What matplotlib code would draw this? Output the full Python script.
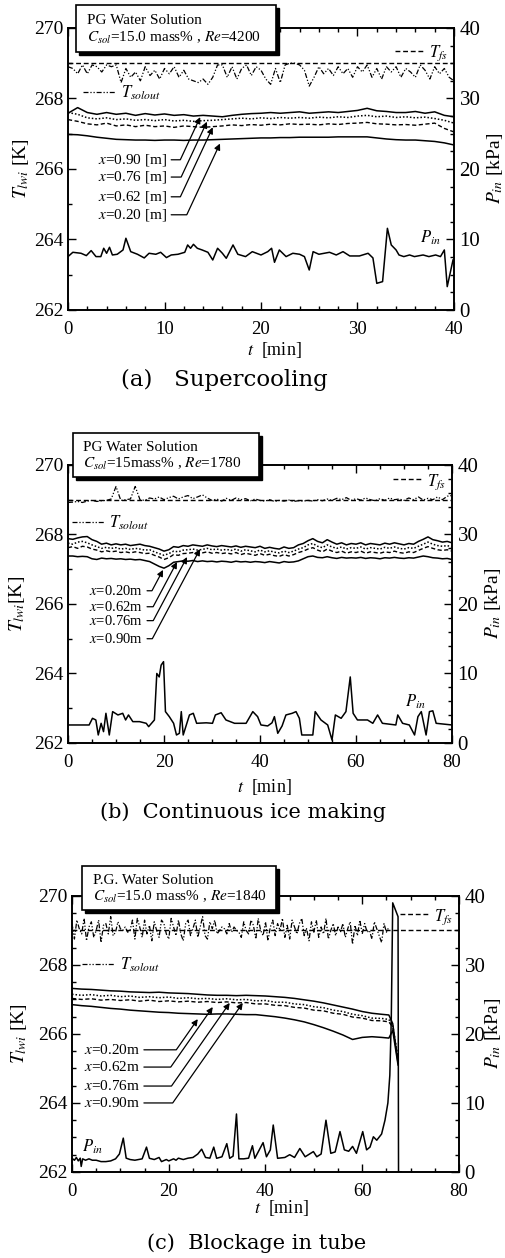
import numpy as np
import matplotlib
matplotlib.use('Agg')
import matplotlib.pyplot as plt
from matplotlib.patches import Rectangle
from matplotlib.ticker import MultipleLocator
from matplotlib.transforms import offset_copy

plt.rcParams['font.family'] = 'Liberation Serif'
plt.rcParams['mathtext.fontset'] = 'stix'

# ---------------- (a) Supercooling ----------------
t_sol_a = np.arange(0, 40.5, 0.5)
tsol_a = [268.9, 268.85, 268.7, 268.95, 268.7, 268.95, 268.9, 268.75, 268.95, 268.9,
          268.95, 268.45, 268.85, 268.6, 268.75, 268.5, 268.9, 268.65, 268.8, 268.55,
          268.85, 268.7, 268.9, 268.6, 268.8, 268.55, 268.5, 268.45, 268.55, 268.4,
          268.6, 268.95, 268.95, 268.6, 268.9, 268.55, 268.85, 268.95, 268.65, 268.9,
          268.8, 268.55, 268.4, 268.85, 268.45, 268.95, 269.0, 269.0, 268.95, 268.8,
          268.35, 268.6, 268.9, 268.7, 268.85, 268.65, 268.9, 268.7, 268.85, 268.6,
          268.9, 268.75, 268.95, 268.6, 268.85, 268.55, 268.9, 268.75, 268.9, 268.6,
          268.85, 268.75, 268.6, 268.95, 268.8, 268.55, 268.9, 268.7, 268.85, 268.6,
          268.5]
tfs_a = 269.0

t_w_a = np.arange(0, 41, 1)
a_x90 = [267.58, 267.74, 267.6, 267.55, 267.6, 267.55, 267.58, 267.52, 267.57, 267.53,
         267.56, 267.52, 267.54, 267.5, 267.52, 267.5, 267.48, 267.52, 267.55, 267.57,
         267.58, 267.6, 267.58, 267.6, 267.62, 267.58, 267.6, 267.62, 267.6, 267.63,
         267.66, 267.72, 267.65, 267.63, 267.6, 267.6, 267.63, 267.58, 267.62, 267.52, 267.48]
a_x76 = [267.6, 267.55, 267.45, 267.42, 267.45, 267.4, 267.42, 267.38, 267.4, 267.37,
         267.4, 267.36, 267.38, 267.35, 267.37, 267.38, 267.4, 267.42, 267.44, 267.42,
         267.45, 267.43, 267.46, 267.44, 267.46, 267.44, 267.47, 267.45, 267.48, 267.46,
         267.5, 267.52, 267.48, 267.5, 267.46, 267.48, 267.45, 267.47, 267.43, 267.38, 267.3]
a_x62 = [267.4, 267.35, 267.28, 267.25, 267.3, 267.22, 267.25, 267.2, 267.24, 267.2,
         267.22, 267.18, 267.22, 267.2, 267.18, 267.2, 267.22, 267.25, 267.23, 267.26,
         267.24, 267.27, 267.25, 267.28, 267.26, 267.27, 267.25, 267.28, 267.26, 267.29,
         267.3, 267.32, 267.28, 267.27, 267.25, 267.26, 267.24, 267.27, 267.3, 267.15, 267.05]
a_x20 = [266.98, 266.97, 266.94, 266.9, 266.87, 266.84, 266.83, 266.82, 266.82, 266.81,
         266.82, 266.82, 266.81, 266.82, 266.82, 266.83, 266.84, 266.85, 266.86, 266.87,
         266.88, 266.88, 266.89, 266.89, 266.9, 266.9, 266.9, 266.9, 266.91, 266.91,
         266.91, 266.91, 266.88, 266.85, 266.83, 266.82, 266.82, 266.8, 266.78, 266.74, 266.68]

pin_a_t = [0, 0.5, 1.35, 1.9, 2.4, 2.9, 3.4, 3.7, 4.0, 4.3, 4.6, 5.1, 5.7, 6.0, 6.5, 7.2, 7.9,
           8.4, 9.1, 9.6, 10.2, 10.7, 11.4, 12.1, 12.4, 12.7, 13.0, 13.4, 13.9, 14.5, 15.0,
           15.5, 16.0, 16.4, 17.1, 17.6, 18.4, 19.1, 20.0, 20.7, 21.1, 21.4, 21.9, 22.6, 23.3,
           24.0, 24.5, 25.0, 25.4, 26.0, 27.1, 27.8, 28.5, 29.2, 30.2, 31.1, 31.6, 32.0, 32.6,
           33.1, 33.5, 34.0, 34.3, 34.8, 35.4, 35.9, 36.8, 37.4, 38.1, 38.6, 39.0, 39.3, 39.9]
pin_a = [7.57, 8.18, 8.04, 7.71, 8.42, 7.57, 7.57, 8.75, 8.04, 8.89, 7.8, 7.9, 8.51, 10.17,
         8.27, 7.9, 7.38, 8.04, 7.9, 8.18, 7.43, 7.8, 7.9, 8.18, 9.22, 8.75, 9.31, 8.75, 8.51,
         8.18, 7.09, 8.75, 8.04, 7.33, 9.22, 7.9, 7.57, 8.27, 7.8, 8.27, 8.75, 6.76, 8.51,
         7.57, 8.04, 7.9, 7.57, 5.67, 8.27, 7.9, 8.18, 7.8, 8.27, 7.66, 7.66, 8.04, 7.38,
         3.78, 4.02, 11.58, 9.22, 8.51, 7.8, 7.57, 7.8, 7.57, 7.8, 7.57, 7.8, 7.57, 8.51,
         3.31, 7.09]

# ---------------- (b) Continuous ice making ----------------
t_b = np.arange(0, 81, 1)
tsol_b = [268.92, 268.93, 268.95, 268.92, 268.96, 268.98, 268.95, 268.97, 268.98, 269.02,
          269.38, 268.98, 269.0, 269.02, 269.38, 269.0, 268.98, 269.05, 269.02, 269.08,
          269.0, 269.06, 269.1, 269.02, 269.08, 269.12, 269.03, 269.08, 269.14, 269.05,
          268.98, 269.02, 268.96, 269.04, 268.98, 269.05, 269.0, 269.03, 268.97, 269.02,
          268.98, 268.96, 269.0, 268.95, 268.98, 268.96, 268.99, 268.95, 268.97, 268.96,
          268.98, 268.96, 269.0, 268.97, 269.02, 268.98, 269.04, 269.0, 269.06, 268.98,
          269.03, 268.99, 269.05, 269.0, 268.97, 269.03, 268.98, 269.05, 269.0, 269.02,
          268.98, 269.05, 269.0, 269.08, 268.99, 269.04, 269.0, 269.08, 269.0, 269.1,
          269.12]
tfs_b = 269.0
b_x90 = [267.88, 267.86, 267.9, 267.93, 267.94, 267.85, 267.8, 267.72, 267.75, 267.7,
         267.73, 267.7, 267.72, 267.68, 267.7, 267.72, 267.68, 267.66, 267.62, 267.58,
         267.52, 267.56, 267.65, 267.63, 267.68, 267.66, 267.7, 267.68, 267.66, 267.7,
         267.67, 267.65, 267.68, 267.66, 267.64, 267.67, 267.63, 267.66, 267.64, 267.62,
         267.66, 267.6, 267.63, 267.6, 267.58, 267.64, 267.6, 267.62, 267.7, 267.74,
         267.82, 267.88, 267.8, 267.76, 267.85, 267.78, 267.72, 267.76, 267.7, 267.74,
         267.72, 267.76, 267.7, 267.74, 267.72, 267.7, 267.75, 267.72, 267.76, 267.73,
         267.7, 267.74, 267.72, 267.8, 267.86, 267.93, 267.85, 267.82, 267.78, 267.8,
         267.76]
b_x76 = [267.75, 267.72, 267.78, 267.8, 267.76, 267.7, 267.65, 267.6, 267.63, 267.6,
         267.62, 267.58, 267.6, 267.57, 267.6, 267.58, 267.55, 267.56, 267.5, 267.45,
         267.4, 267.45, 267.52, 267.5, 267.55, 267.56, 267.58, 267.55, 267.57, 267.6,
         267.56, 267.58, 267.55, 267.57, 267.54, 267.58, 267.52, 267.56, 267.53, 267.5,
         267.55, 267.5, 267.53, 267.49, 267.47, 267.52, 267.48, 267.52, 267.58, 267.62,
         267.7, 267.74, 267.66, 267.62, 267.7, 267.64, 267.6, 267.64, 267.58, 267.62,
         267.6, 267.64, 267.58, 267.62, 267.6, 267.58, 267.63, 267.6, 267.64, 267.6,
         267.58, 267.62, 267.6, 267.66, 267.72, 267.78, 267.72, 267.68, 267.66, 267.68,
         267.64]
b_x62 = [267.62, 267.65, 267.6, 267.66, 267.64, 267.58, 267.55, 267.5, 267.53, 267.5,
         267.52, 267.48, 267.5, 267.47, 267.5, 267.48, 267.45, 267.46, 267.4, 267.35,
         267.28, 267.33, 267.42, 267.4, 267.45, 267.46, 267.48, 267.45, 267.47, 267.5,
         267.46, 267.48, 267.45, 267.47, 267.44, 267.48, 267.42, 267.46, 267.43, 267.4,
         267.45, 267.4, 267.43, 267.39, 267.37, 267.42, 267.38, 267.42, 267.48, 267.52,
         267.58, 267.62, 267.55, 267.5, 267.58, 267.52, 267.48, 267.52, 267.46, 267.5,
         267.48, 267.52, 267.46, 267.5, 267.48, 267.46, 267.5, 267.48, 267.52, 267.48,
         267.46, 267.5, 267.48, 267.54, 267.6, 267.65, 267.6, 267.56, 267.54, 267.56,
         267.52]
b_x20 = [267.38, 267.38, 267.36, 267.37, 267.36, 267.3, 267.28, 267.32, 267.3, 267.31,
         267.29, 267.3, 267.28, 267.29, 267.27, 267.28, 267.25, 267.22, 267.15, 267.08,
         267.03, 267.1, 267.2, 267.22, 267.24, 267.23, 267.25, 267.22, 267.24, 267.22,
         267.23, 267.21, 267.23, 267.22, 267.2, 267.23, 267.21, 267.22, 267.2, 267.22,
         267.21, 267.19, 267.22, 267.2, 267.18, 267.22, 267.2, 267.21, 267.24, 267.3,
         267.36, 267.38, 267.34, 267.33, 267.36, 267.33, 267.31, 267.34, 267.32, 267.33,
         267.32, 267.34, 267.31, 267.33, 267.32, 267.3, 267.33, 267.32, 267.34, 267.32,
         267.31, 267.33, 267.32, 267.35, 267.38, 267.36, 267.33, 267.32, 267.3, 267.31,
         267.28]
pin_b_t = [0, 4.4, 5.1, 5.8, 6.3, 6.9, 7.4, 7.9, 8.6, 9.3, 10.4, 11.4, 12.0, 12.6, 13.5,
           14.9, 16.3, 16.8, 18.0, 18.5, 19.0, 19.4, 19.9, 20.3, 21.1, 22.0, 22.6, 23.2,
           23.6, 24.0, 25.3, 26.1, 26.8, 28.8, 30.1, 30.7, 31.9, 32.9, 34.7, 37.1, 38.5,
           39.5, 40.2, 41.6, 42.5, 43.0, 43.7, 44.6, 45.4, 46.7, 47.5, 48.2, 48.7, 51.0,
           51.5, 52.7, 54.1, 55.0, 55.7, 56.9, 57.9, 58.8, 59.4, 60.3, 62.4, 63.5, 64.5,
           65.5, 68.3, 68.7, 69.7, 71.1, 72.2, 72.9, 73.6, 74.6, 75.3, 76.0, 76.7, 80.0]
pin_b = [2.59, 2.59, 3.55, 3.31, 1.15, 2.83, 1.63, 4.27, 1.15, 4.51, 4.03, 4.27, 3.31,
         4.03, 3.07, 3.07, 2.83, 2.35, 3.31, 10.0, 9.5, 11.2, 11.7, 4.51, 3.79, 2.83, 1.15,
         1.39, 4.51, 1.15, 4.03, 4.27, 2.83, 2.9, 2.83, 4.03, 4.35, 3.31, 2.83, 2.83, 4.51,
         3.79, 2.59, 2.45, 2.9, 3.79, 1.39, 2.45, 4.03, 4.27, 4.51, 3.55, 1.15, 1.15, 4.51,
         3.31, 2.59, 0.43, 4.03, 3.55, 4.51, 9.5, 4.27, 3.31, 3.31, 2.83, 4.03, 2.83, 2.59,
         4.03, 2.83, 2.59, 1.15, 3.79, 4.51, 1.15, 4.51, 4.63, 2.83, 2.59]

# ---------------- (c) Blockage in tube ----------------
t_sol_c = np.arange(0, 66, 0.5)
tsol_c = [269.2, 268.75, 269.3, 269.05, 268.9, 269.35, 268.7, 269.1, 269.25, 268.8,
          269.0, 269.3, 268.65, 269.15, 269.2, 268.9, 269.4, 268.85, 268.95, 269.25,
          269.05, 269.0, 269.1, 268.95, 269.0, 269.3, 268.75, 269.35, 269.1, 268.8,
          269.3, 268.9, 269.15, 268.7, 269.25, 269.0, 268.8, 269.3, 269.2, 268.9,
          268.75, 269.35, 269.1, 268.85, 269.3, 268.9, 268.7, 269.2, 269.3, 268.85,
          269.05, 269.3, 268.8, 269.1, 269.4, 268.85, 268.75, 269.25, 269.05, 269.3,
          268.9, 269.0, 269.1, 269.05, 268.9, 269.2, 268.95, 269.1, 269.0, 268.95,
          268.8, 269.25, 269.0, 268.9, 269.3, 269.15, 268.75, 269.35, 269.0, 268.85,
          269.25, 268.7, 269.1, 269.3, 268.85, 269.2, 269.0, 269.35, 268.8, 269.15,
          268.75, 269.3, 269.1, 268.9, 269.2, 269.35, 268.85, 269.05, 268.7, 269.25,
          268.95, 269.3, 268.8, 269.1, 268.9, 269.35, 268.75, 269.0, 269.2, 268.85,
          269.1, 268.95, 269.2, 268.8, 269.05, 269.25, 268.6, 269.15, 268.85, 269.3,
          268.9, 269.2, 268.95, 269.0, 268.75, 269.25, 269.05, 268.85, 268.65, 269.2,
          268.95, 269.1]
tfs_c = 269.0
t_w_c = [0, 2, 4, 6, 8, 10, 12, 14, 16, 18, 20, 22, 24, 26, 28, 30, 32, 34, 36, 38,
         40, 42, 44, 46, 48, 50, 52, 54, 56, 58, 60, 62, 64, 65.5, 66.3, 67.4]
c_x90 = [267.32, 267.3, 267.29, 267.27, 267.25, 267.24, 267.22, 267.21, 267.2, 267.21,
         267.19, 267.18, 267.17, 267.15, 267.13, 267.12, 267.12, 267.11, 267.12, 267.11,
         267.1, 267.08, 267.06, 267.03, 266.99, 266.95, 266.9, 266.84, 266.78, 266.72,
         266.65, 266.6, 266.57, 266.55, 266.3, 265.15]
c_x76 = [267.15, 267.12, 267.14, 267.1, 267.12, 267.08, 267.1, 267.06, 267.08, 267.05,
         267.07, 267.03, 267.05, 267.02, 267.03, 267.0, 267.02, 266.99, 267.0, 266.96,
         266.97, 266.92, 266.92, 266.87, 266.85, 266.79, 266.76, 266.69, 266.65, 266.57,
         266.53, 266.46, 266.45, 266.42, 266.25, 265.3]
c_x62 = [267.03, 267.0, 267.02, 266.98, 267.0, 266.97, 266.99, 266.95, 266.98, 266.94,
         266.96, 266.93, 266.95, 266.92, 266.94, 266.91, 266.93, 266.9, 266.91, 266.87,
         266.87, 266.83, 266.82, 266.77, 266.75, 266.69, 266.67, 266.6, 266.57, 266.49,
         266.46, 266.39, 266.38, 266.35, 266.2, 265.25]
c_x20 = [266.85, 266.82, 266.8, 266.77, 266.74, 266.72, 266.69, 266.67, 266.65, 266.63,
         266.62, 266.6, 266.59, 266.58, 266.57, 266.58, 266.58, 266.57, 266.56, 266.56,
         266.53, 266.5, 266.46, 266.41, 266.35, 266.27, 266.18, 266.08, 265.97, 265.84,
         265.9, 265.92, 265.9, 265.88, 266.1, 265.1]
pin_c_t = [0, 0.5, 0.9, 1.3, 1.7, 1.9, 2.2, 2.8, 3.5, 4.2, 5, 6, 7, 8, 9, 9.8, 10.6, 11.2,
           12, 13, 14.5, 15.4, 16, 17, 18, 18.5, 19.5, 20, 21, 21.5, 22, 23, 24, 25, 26,
           26.8, 27.6, 28.5, 29.3, 29.9, 31, 32, 32.6, 33.3, 34.0, 34.5, 35.5, 36.5, 37.3,
           37.8, 39.5, 40.2, 41, 41.6, 42.5, 44, 45, 46, 47.1, 48.2, 49.9, 50.6, 51.5, 52.5,
           53.5, 54.4, 55.4, 56.3, 57.2, 58, 58.8, 60.1, 60.9, 61.6, 62.3, 63.0, 64.0, 64.7,
           65.3, 65.7, 66.0, 66.3, 67.4, 67.5, 68.0]
pin_c = [1.98, 1.7, 2.1, 1.6, 2.0, 0.8, 1.9, 1.7, 1.9, 1.7, 1.7, 1.5, 1.5, 1.6, 1.9, 2.6,
         4.9, 2.0, 1.8, 1.7, 1.9, 3.6, 1.98, 1.8, 2.1, 1.5, 1.8, 1.6, 1.9, 1.7, 2.0, 1.8,
         2.0, 2.1, 2.6, 3.3, 2.1, 2.0, 3.6, 1.98, 2.2, 4.1, 1.98, 2.3, 8.4, 1.9, 1.9, 2.0,
         3.8, 1.98, 4.25, 2.2, 3.2, 6.8, 1.98, 2.1, 2.5, 2.1, 3.4, 2.2, 2.95, 2.2, 2.6, 7.5,
         2.7, 2.9, 5.85, 3.2, 3.0, 3.7, 2.7, 5.85, 3.2, 3.6, 5.1, 4.6, 5.5, 7.5, 10.0, 14.0,
         22.0, 39.0, 37.0, 0.0, 0.0]

# line styles
FS = dict(color='k', lw=1.0, ls=(0, (3.5, 2)))
SOL = dict(color='k', lw=0.9, ls=(0, (4, 1.5, 1, 1.5, 1, 1.5)))
X90 = dict(color='k', lw=1.1, ls='-')
X76 = dict(color='k', lw=1.1, ls=(0, (1, 1.3)))
X62 = dict(color='k', lw=1.0, ls=(0, (3, 1.8)))
X20 = dict(color='k', lw=1.1, ls='-')

fig = plt.figure(figsize=(5.06, 12.58), dpi=100)


def make_axes(rect, tmax, xmajor, xminor, tminor, pminor):
    ax = fig.add_axes(rect)
    ax2 = ax.twinx()
    ax.set_zorder(ax2.get_zorder() + 1)
    ax.patch.set_visible(False)
    ax.set_xlim(0, tmax)
    ax.set_ylim(262, 270)
    ax2.set_ylim(0, 40)
    ax.xaxis.set_major_locator(MultipleLocator(xmajor))
    ax.xaxis.set_minor_locator(MultipleLocator(xminor))
    ax.yaxis.set_major_locator(MultipleLocator(2))
    ax.yaxis.set_minor_locator(MultipleLocator(tminor))
    ax2.yaxis.set_major_locator(MultipleLocator(10))
    ax2.yaxis.set_minor_locator(MultipleLocator(pminor))
    ax.tick_params(which='both', direction='in', top=True, right=False, width=1)
    ax.tick_params(which='major', length=6)
    ax.tick_params(which='minor', length=3)
    ax.tick_params(axis='y', labelsize=14, pad=3)
    ax.tick_params(axis='x', labelsize=13.5, pad=8)
    ax2.tick_params(which='both', direction='in', width=1)
    ax2.tick_params(which='major', length=6, labelsize=15, pad=4)
    ax2.tick_params(which='minor', length=3)
    for a in (ax, ax2):
        for s in a.spines.values():
            s.set_linewidth(1.2)
    return ax, ax2


def info_box(ax, x0, y0, x1, y1, line1, line2):
    shadow = offset_copy(ax.transAxes, fig=fig, x=3, y=-3, units='dots')
    ax.add_patch(Rectangle((x0, y0), x1 - x0, y1 - y0, transform=shadow,
                           fc='k', ec='k', lw=1, clip_on=False, zorder=9))
    ax.add_patch(Rectangle((x0, y0), x1 - x0, y1 - y0, transform=ax.transAxes,
                           fc='white', ec='k', lw=1.2, clip_on=False, zorder=10))
    ax.text(x0 + 0.027, y0 + 0.66 * (y1 - y0), line1, transform=ax.transAxes,
            fontsize=11, va='center', ha='left', zorder=11)
    ax.text(x0 + 0.027, y0 + 0.3 * (y1 - y0), line2, transform=ax.transAxes,
            fontsize=11, va='center', ha='left', zorder=11)


def small_legends(ax, fs_line, sol_line, fs_pos, sol_pos):
    leg1 = ax.legend([fs_line], [r'$T_{fs}$'], loc='center left', bbox_to_anchor=fs_pos,
                     frameon=False, fontsize=12, handlelength=1.8, handletextpad=0.25,
                     borderpad=0, borderaxespad=0)
    ax.add_artist(leg1)
    ax.legend([sol_line], [r'$T_{solout}$'], loc='center left', bbox_to_anchor=sol_pos,
              frameon=False, fontsize=12, handlelength=2.0, handletextpad=0.25,
              borderpad=0, borderaxespad=0)


def arrows(ax, labels, label_t, label_T, tips, angle, fsize):
    for lab, ty, tip in zip(labels, label_T, tips):
        ax.annotate(lab, xy=tip, xytext=(label_t, ty), ha='right', va='center',
                    fontsize=fsize,
                    arrowprops=dict(arrowstyle='-|>', color='k', lw=0.9,
                                    connectionstyle='angle,angleA=0,angleB=%g,rad=0' % angle,
                                    shrinkA=1, shrinkB=0, relpos=(1, 0.5),
                                    mutation_scale=9))


def draw_temps(ax, t_sol, tsol, tfs, tmax, t_w, x90, x76, x62, x20):
    fs_line, = ax.plot([0, tmax], [tfs, tfs], **FS)
    sol_line, = ax.plot(t_sol, tsol, **SOL)
    ax.plot(t_w, x90, **X90)
    ax.plot(t_w, x76, **X76)
    ax.plot(t_w, x62, **X62)
    ax.plot(t_w, x20, **X20)
    return fs_line, sol_line


def labels(ax, ax2, ylab, lx, rx, xly):
    ax.set_ylabel(ylab, fontsize=14)
    ax.yaxis.set_label_coords(lx, 0.5)
    ax2.set_ylabel(r'$P_{in}$ [kPa]', fontsize=14)
    ax2.yaxis.set_label_coords(rx, 0.5)
    ax.set_xlabel(r'$t$  [min]', fontsize=13)
    ax.xaxis.set_label_coords(xly[0], xly[1])


# ---- panel (a)
ax, ax2 = make_axes([0.1344, 0.7536, 0.7628, 0.2242], 40, 10, 2, 1, 2.5)
fs_l, sol_l = draw_temps(ax, t_sol_a, tsol_a, tfs_a, 40, t_w_a, a_x90, a_x76, a_x62, a_x20)
ax2.plot(pin_a_t, pin_a, color='k', lw=1.1)
info_box(ax, 0.021, 0.915, 0.539, 1.082, 'PG Water Solution',
         r'$C_{sol}$=15.0 mass% , $Re$=4200')
small_legends(ax, fs_l, sol_l, (0.847, 0.911), (0.039, 0.77))
arrows(ax, [r'$x$=0.90 [m]', r'$x$=0.76 [m]', r'$x$=0.62 [m]', r'$x$=0.20 [m]'],
       10.26, [266.26, 265.77, 265.21, 264.7],
       [(13.7, 267.47), (14.4, 267.34), (15.0, 267.18), (15.75, 266.72)], 65, 11)
ax.text(0.938, 0.255, r'$P_{in}$', transform=ax.transAxes, fontsize=12, ha='center', va='center')
labels(ax, ax2, r'$T_{lwi}$ [K]', -0.096, 1.08, (0.534, -0.106))
fig.text(0.443, 0.698, '(a)   Supercooling', fontsize=16.5, family='DejaVu Serif',
         ha='center', va='center')

# ---- panel (b)
ax, ax2 = make_axes([0.1344, 0.4094, 0.7589, 0.221], 80, 20, 5, 1, 2)
fs_l, sol_l = draw_temps(ax, t_b, tsol_b, tfs_b, 80, t_b, b_x90, b_x76, b_x62, b_x20)
ax2.plot(pin_b_t, pin_b, color='k', lw=1.1)
info_box(ax, 0.013, 0.957, 0.497, 1.115, 'PG Water Solution',
         r'$C_{sol}$=15mass% , $Re$=1780')
small_legends(ax, fs_l, sol_l, (0.846, 0.939), (0.01, 0.791))
arrows(ax, [r'$x$=0.20m', r'$x$=0.62m', r'$x$=0.76m', r'$x$=0.90m'],
       15.6, [266.38, 265.92, 265.52, 265.0],
       [(19.8, 266.98), (22.7, 267.21), (24.8, 267.35), (27.5, 267.58)], 62, 10.5)
ax.text(0.906, 0.147, r'$P_{in}$', transform=ax.transAxes, fontsize=12, ha='center', va='center')
labels(ax, ax2, r'$T_{lwi}$[K]', -0.107, 1.08, (0.51, -0.122))
fig.text(0.48, 0.3545, '(b)  Continuous ice making', fontsize=15, family='DejaVu Serif',
         ha='center', va='center')

# ---- panel (c)
ax, ax2 = make_axes([0.1423, 0.0684, 0.7648, 0.2194], 80, 20, 5, 0.5, 2.5)
fs_l, sol_l = draw_temps(ax, t_sol_c, tsol_c, tfs_c, 80, t_w_c, c_x90, c_x76, c_x62, c_x20)
ax2.plot(pin_c_t, pin_c, color='k', lw=1.1)
info_box(ax, 0.026, 0.949, 0.527, 1.109, 'P.G. Water Solution',
         r'$C_{sol}$=15.0 mass% , $Re$=1840')
small_legends(ax, fs_l, sol_l, (0.848, 0.924), (0.026, 0.75))
arrows(ax, [r'$x$=0.20m', r'$x$=0.62m', r'$x$=0.76m', r'$x$=0.90m'],
       14.0, [265.54, 265.04, 264.49, 264.0],
       [(26.0, 266.43), (29.1, 266.78), (32.6, 266.9), (35.3, 266.9)], 55, 11)
ax.text(0.052, 0.09, r'$P_{in}$', transform=ax.transAxes, fontsize=12, ha='center', va='center')
labels(ax, ax2, r'$T_{lwi}$ [K]', -0.111, 1.062, (0.54, -0.094))
fig.text(0.508, 0.0119, '(c)  Blockage in tube', fontsize=15, family='DejaVu Serif',
         ha='center', va='center')

fig.savefig('out.png', dpi=100)
